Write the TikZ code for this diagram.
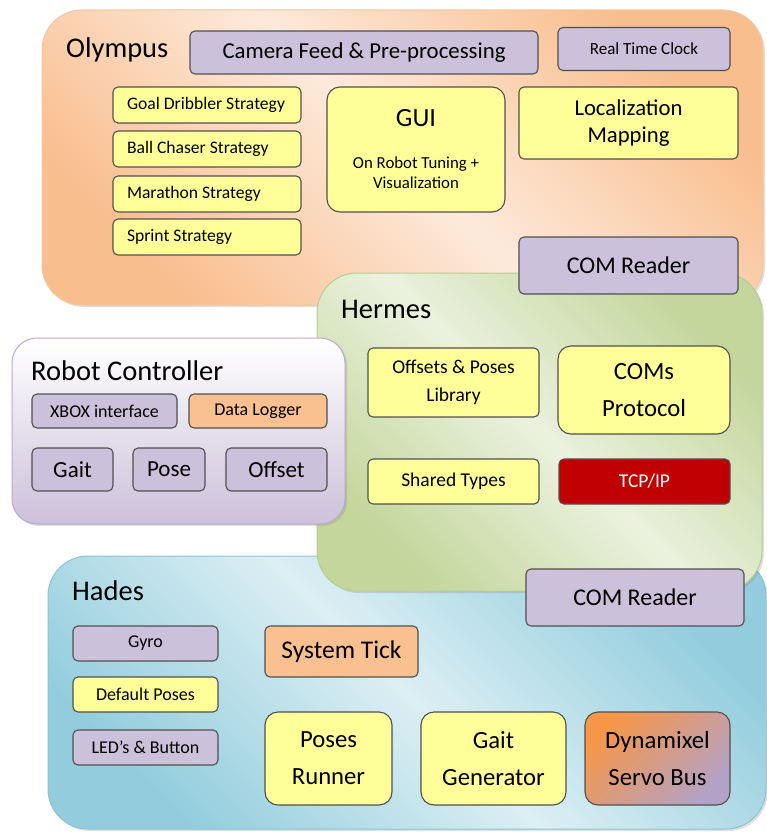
\documentclass[tikz,border=0pt]{standalone}
\usepackage{fontspec}
\setmainfont{Carlito}
\usetikzlibrary{shadows}

\definecolor{boxline}{HTML}{505050}
\definecolor{lilacfill}{HTML}{CCC1DA}
\definecolor{lemonfill}{HTML}{FFFF99}
\definecolor{peachfill}{HTML}{FAC090}
\definecolor{tcpred}{HTML}{C00000}
\definecolor{dynorange}{HTML}{F79646}
\definecolor{dynlilac}{HTML}{B3A2C7}
\definecolor{olylight}{HTML}{FDEADB}
\definecolor{olydark}{HTML}{F9BE8E}
\definecolor{olyline}{HTML}{F5C6A0}
\definecolor{herlight}{HTML}{EBF1DE}
\definecolor{herdark}{HTML}{C3D69B}
\definecolor{herline}{HTML}{B8CC94}
\definecolor{hadlight}{HTML}{DCEFF4}
\definecolor{haddark}{HTML}{93CDDD}
\definecolor{hadline}{HTML}{8CC3D3}
\definecolor{rcline}{HTML}{B8A9CC}

\tikzset{
  modbox/.style={draw=boxline,line width=1.1pt,rounded corners=5pt,align=center,inner sep=0pt,text=black},
  bigbox/.style={modbox,rounded corners=13pt},
  boxsize/.style 2 args={minimum width=#1pt,minimum height=#2pt},
  strategy/.style={modbox,fill=lemonfill,font=\fontsize{17.6}{22}\selectfont,align=flush left,text width=160pt,inner xsep=14pt,minimum height=36pt},
  lilac/.style={fill=lilacfill},
  lemon/.style={fill=lemonfill},
  peach/.style={fill=peachfill},
  panel/.style={rounded corners=40pt,line width=1pt,drop shadow={opacity=0.25,shadow xshift=2pt,shadow yshift=-2pt}},
  title/.style={anchor=base west,inner sep=0pt,font=\fontsize{28.5}{34}\selectfont},
  smalltext/.style={font=\fontsize{18}{22}\selectfont},
  hermtext/.style={font=\fontsize{19.5}{28}\selectfont},
  midtext/.style={font=\fontsize{23}{27}\selectfont},
  bigtext/.style={font=\fontsize{24.7}{37}\selectfont}
}

\begin{document}
\begin{tikzpicture}[x=1pt,y=-1pt]
\useasboundingbox (0,0) rectangle (766,832);

% Olympus
\path[panel,draw=olyline,top color=olydark,bottom color=olydark,middle color=olylight,shading angle=-45]
  (42,10) rectangle (763,305);
\node[title] (olympus) at (66,58) {Olympus};
\node[modbox,lilac,font=\fontsize{22.8}{27}\selectfont,boxsize={348}{43}] (camera) at (364,52.5) {Camera Feed \& Pre-processing};
\node[modbox,lilac,font=\fontsize{17}{22}\selectfont,boxsize={172}{43}] (rtc) at (644,49) {Real Time Clock};
\node[strategy] (goal) at (207,105) {Goal Dribbler Strategy};
\node[strategy] (chaser) at (207,149) {Ball Chaser Strategy};
\node[strategy] (marathon) at (207,194) {Marathon Strategy};
\node[strategy] (sprint) at (207,237) {Sprint Strategy};
\node[bigbox,lemon,font=\fontsize{16.8}{20}\selectfont,boxsize={178}{125}] (gui) at (416,149.5)
  {{\fontsize{26.3}{30}\selectfont GUI}\\[22pt]On Robot Tuning +\\Visualization};
\node[modbox,lemon,font=\fontsize{22.7}{27}\selectfont,boxsize={219}{72}] (localization) at (628.5,123) {Localization\\Mapping};

% Hades
\path[panel,draw=hadline,top color=haddark,bottom color=haddark,middle color=hadlight,shading angle=-45]
  (48,556) rectangle (766,829);
\node[title] (hades) at (72,600) {Hades};
\node[modbox,lilac,smalltext,boxsize={145}{35}] (gyro) at (145.5,643.5) {Gyro};
\node[modbox,lemon,smalltext,boxsize={145}{35}] (defposes) at (145.5,694.5) {Default Poses};
\node[modbox,lilac,smalltext,boxsize={145}{35}] (leds) at (145.5,747.5) {LED’s \& Button};
\node[modbox,peach,font=\fontsize{25.5}{30}\selectfont,boxsize={153}{51}] (systick) at (341.5,651.5) {System Tick};
\node[bigbox,lemon,bigtext,boxsize={127}{93}] (runner) at (328.5,758.5) {Poses\\Runner};
\node[bigbox,lemon,bigtext,boxsize={145}{93}] (gaitgen) at (493.5,758.5) {Gait\\Generator};
\node[bigbox,top color=dynorange,bottom color=dynlilac,shading angle=45,bigtext,boxsize={145}{93}] (servobus) at (657.5,758.5) {Dynamixel\\Servo Bus};

% Hermes
\path[panel,draw=herline,top color=herdark,bottom color=herdark,middle color=herlight,shading angle=-45]
  (317,273) rectangle (762,591);
\node[title] (hermes) at (341,318) {Hermes};
\node[modbox,lemon,hermtext,boxsize={171}{69}] (library) at (453.5,382.5) {Offsets \& Poses\\Library};
\node[bigbox,lemon,bigtext,boxsize={172}{88}] (protocol) at (644,390) {COMs\\Protocol};
\node[modbox,lemon,hermtext,boxsize={171}{45}] (types) at (453.5,481.5) {Shared Types};
\node[modbox,fill=tcpred,text=white,hermtext,boxsize={171}{45}] (tcpip) at (644.5,481.5) {TCP/IP};

% COM readers on top of Hermes
\node[modbox,lilac,font=\fontsize{24}{28}\selectfont,boxsize={219}{57}] (readertop) at (628.5,265.5) {COM Reader};
\node[modbox,lilac,font=\fontsize{24}{28}\selectfont,boxsize={218}{57}] (readerbottom) at (635,597.5) {COM Reader};

% Robot Controller
\path[panel,rounded corners=25pt,draw=rcline,top color=white,bottom color=lilacfill]
  (12,338) rectangle (345,524);
\node[title] (controller) at (31,380) {Robot Controller};
\node[modbox,lilac,smalltext,boxsize={145}{34}] (xbox) at (104.5,411) {XBOX interface};
\node[modbox,peach,smalltext,boxsize={138}{34}] (logger) at (258,411) {Data Logger};
\node[modbox,lilac,midtext,boxsize={81}{43}] (gait) at (72.5,469.5) {Gait};
\node[modbox,lilac,midtext,boxsize={72}{43}] (pose) at (169,469.5) {Pose};
\node[modbox,lilac,midtext,boxsize={101}{43}] (offset) at (276.5,469.5) {Offset};

\end{tikzpicture}
\end{document}
